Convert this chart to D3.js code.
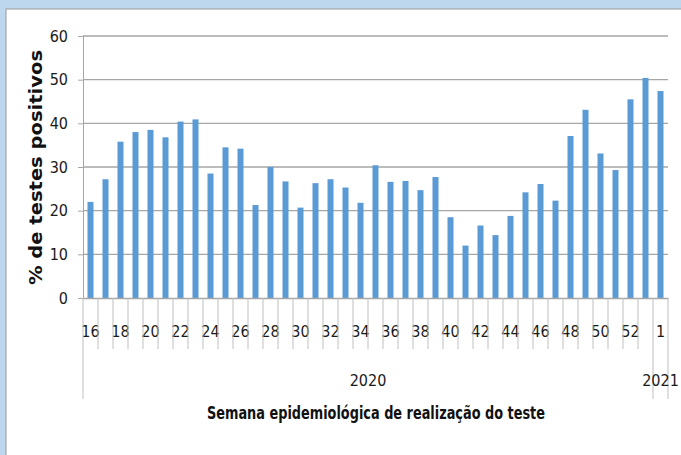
<!DOCTYPE html>
<html>
<head>
<meta charset="utf-8">
<script src="https://cdn.jsdelivr.net/npm/d3@7"></script>
<style>
  body { margin: 0; background: #bdd7ee; }
  .tick text, .lbl { font-family: "DejaVu Sans Condensed", sans-serif; fill: #1a1a1a; }
</style>
</head>
<body>
<script>
// weeks of 2020 (16..53) then week 1 of 2021
const weeks = [16,17,18,19,20,21,22,23,24,25,26,27,28,29,30,31,32,33,34,35,36,37,38,39,40,41,42,43,44,45,46,47,48,49,50,51,52,53,1];
const years = ["2020","2020","2020","2020","2020","2020","2020","2020","2020","2020","2020","2020","2020","2020","2020","2020","2020","2020","2020","2020","2020","2020","2020","2020","2020","2020","2020","2020","2020","2020","2020","2020","2020","2020","2020","2020","2020","2020","2021"];
const positivos = [22.0,27.2,35.8,38.0,38.5,36.8,40.4,40.9,28.5,34.5,34.2,21.3,30.0,26.7,20.7,26.3,27.2,25.3,21.8,30.4,26.6,26.8,24.7,27.7,18.5,12.0,16.6,14.4,18.8,24.2,26.1,22.3,37.1,43.1,33.1,29.3,45.5,50.4,47.4];
const yTicks = [0,10,20,30,40,50,60];
const yearLabels = ["2020","2021"];

const W = 681, H = 455;
const margin = {top: 36, right: 13, bottom: 157, left: 83},
    width = W - margin.left - margin.right,
    height = H - margin.top - margin.bottom;

const svg = d3.select("body").append("svg")
    .attr("width", W)
    .attr("height", H)
    .style("display", "block");

// white chart area with grey frame
svg.append("rect").attr("x", 6).attr("y", 9).attr("width", W).attr("height", H)
    .attr("fill", "#fff").attr("stroke", "#999").attr("stroke-width", 1);

const g = svg.append("g")
    .attr("transform", "translate(" + margin.left + "," + margin.top + ")");

const idx = weeks.map((d, i) => i);
const x = d3.scaleBand().domain(idx).range([0, width]).paddingInner(0).paddingOuter(0);
const y = d3.scaleLinear().domain([0, 60]).range([height, 0]);

// gridlines
g.append("g")
    .selectAll("line")
    .data(yTicks.slice(1))
    .join("line")
    .attr("x1", 0).attr("x2", width)
    .attr("y1", d => y(d)).attr("y2", d => y(d))
    .attr("stroke", "#a6a6a6").attr("stroke-width", 1.3);

// y axis
const yAxis = g.append("g")
    .call(d3.axisLeft(y).tickValues(yTicks).tickSize(5).tickPadding(10));
yAxis.select(".domain").attr("stroke", "#a6a6a6");
yAxis.selectAll(".tick line").attr("stroke", "#a6a6a6");
yAxis.selectAll(".tick text").style("font-size", "16px");

// bars
const bw = x.bandwidth() * 0.4;
g.append("g")
    .selectAll("rect")
    .data(positivos)
    .join("rect")
    .attr("x", (d, i) => x(i) + (x.bandwidth() - bw) / 2)
    .attr("width", bw)
    .attr("y", d => y(d))
    .attr("height", d => y(0) - y(d))
    .attr("fill", "#5b9bd5");

// category axis
const xAxis = g.append("g")
    .attr("transform", "translate(0," + height + ")")
    .call(d3.axisBottom(x).tickSize(0).tickPadding(28)
        .tickFormat(i => (i % 2 === 0 ? weeks[i] : "")));
xAxis.select(".domain").attr("stroke", "#a6a6a6").attr("stroke-width", 1.3);
xAxis.selectAll(".tick text").style("font-size", "16px");

// category separators
g.append("g")
    .selectAll("line")
    .data(idx.concat([weeks.length]))
    .join("line")
    .attr("x1", i => i < weeks.length ? x(i) : width)
    .attr("x2", i => i < weeks.length ? x(i) : width)
    .attr("y1", height)
    .attr("y2", (i) => (i === 0 || i === weeks.length || years[i] !== years[i - 1]) ? height + 101 : height + 51)
    .attr("stroke", "#bfbfbf").attr("stroke-width", 1);

// year labels
const yearSpan = yearLabels.map(yr => {
    const ii = idx.filter(i => years[i] === yr);
    return {yr, x0: x(ii[0]), x1: x(ii[ii.length - 1]) + x.bandwidth()};
});
g.append("g")
    .selectAll("text")
    .data(yearSpan)
    .join("text")
    .attr("class", "lbl")
    .attr("x", d => (d.x0 + d.x1) / 2)
    .attr("y", height + 88)
    .attr("text-anchor", "middle")
    .style("font-size", "16px")
    .text(d => d.yr);

// axis titles
svg.append("text")
    .attr("x", 207).attr("y", 419)
    .attr("textLength", 338)
    .attr("lengthAdjust", "spacingAndGlyphs")
    .style("font-family", "'DejaVu Sans Condensed', sans-serif")
    .style("font-weight", "bold")
    .style("font-size", "18px")
    .attr("fill", "#111")
    .text("Semana epidemiológica de realização do teste");

svg.append("text")
    .attr("transform", "translate(42,285) rotate(-90)")
    .attr("textLength", 235)
    .attr("lengthAdjust", "spacingAndGlyphs")
    .style("font-family", "'DejaVu Sans', sans-serif")
    .style("font-weight", "bold")
    .style("font-size", "18px")
    .attr("fill", "#111")
    .text("% de testes positivos");
</script>
</body>
</html>
